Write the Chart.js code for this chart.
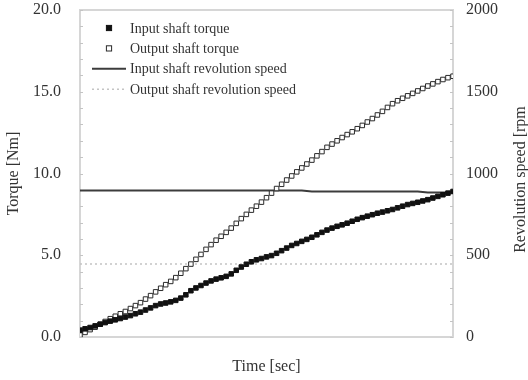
<!DOCTYPE html>
<html lang="en">
  <head>
    <meta charset="UTF-8" />
    <title>Torque and revolution speed</title>
    <script src="https://cdnjs.cloudflare.com/ajax/libs/Chart.js/4.4.1/chart.umd.min.js"></script>
    <style>
      html, body {
        margin: 0;
        padding: 0;
        background: #ffffff;
      }
      .chart-container {
        width: 528px;
        height: 380px;
      }
    </style>
  </head>
  <body>
    <div class="chart-container">
      <canvas id="myChart"></canvas>
    </div>

    <script>
      // torque readings [Nm], one per sample step
      const inputTorque = [
        0.42, 0.50, 0.58, 0.68, 0.78, 0.88, 0.97, 1.05, 1.13, 1.22,
        1.31, 1.42, 1.52, 1.65, 1.78, 1.92, 2.02, 2.08, 2.15, 2.24,
        2.38, 2.58, 2.83, 3.00, 3.15, 3.30, 3.43, 3.54, 3.62, 3.71,
        3.86, 4.08, 4.28, 4.45, 4.60, 4.72, 4.80, 4.90, 4.98, 5.12,
        5.28, 5.44, 5.60, 5.72, 5.85, 5.97, 6.10, 6.25, 6.40, 6.54,
        6.66, 6.77, 6.86, 6.96, 7.08, 7.20, 7.30, 7.39, 7.48, 7.57,
        7.64, 7.72, 7.80, 7.90, 8.00, 8.10, 8.17, 8.24, 8.32, 8.40,
        8.50, 8.60, 8.70, 8.80, 8.90
      ];
      const outputTorque = [
        0.12, 0.28, 0.45, 0.60, 0.78, 0.95, 1.12, 1.27, 1.42, 1.56,
        1.74, 1.92, 2.10, 2.32, 2.53, 2.76, 2.98, 3.20, 3.40, 3.63,
        3.90, 4.18, 4.46, 4.75, 5.05, 5.36, 5.65, 5.92, 6.16, 6.40,
        6.66, 6.95, 7.24, 7.50, 7.76, 8.00, 8.25, 8.52, 8.80, 9.08,
        9.34, 9.60, 9.85, 10.10, 10.34, 10.58, 10.82, 11.08, 11.34, 11.60,
        11.80, 12.00, 12.20, 12.38, 12.55, 12.74, 12.94, 13.15, 13.36, 13.58,
        13.80, 14.04, 14.27, 14.45, 14.60, 14.75, 14.90, 15.05, 15.20, 15.35,
        15.48, 15.62, 15.75, 15.86, 15.95
      ];

      // revolution speed [rpm], sample step where each reading holds
      const inputSpeedTime = [0, 44, 46, 67, 69, 74];
      const inputSpeed = [896, 896, 890, 890, 884, 884];
      const outputSpeedTime = [0, 74];
      const outputSpeed = [447, 447];

      const torqueTicks = [0, 5, 10, 15, 20];
      const speedTicks = [0, 500, 1000, 1500, 2000];

      const serif = "'Liberation Serif', 'DejaVu Serif', serif";
      const textColor = "#333333";

      const toPoints = (xs, ys) => ys.map((y, i) => ({ x: xs[i], y: y }));
      const steps = inputTorque.map((_, i) => i);

      // keep the plot box where the reference has it
      const fitSide = (width) => (s) => {
        s.width = width;
        s.paddingTop = 10;
        s.paddingBottom = 10;
      };

      // frame, small inside ticks, legend and the right axis title
      const framePlugin = {
        id: "frame",
        beforeDatasetsDraw(chart) {
          const { ctx, chartArea: a, scales } = chart;
          ctx.save();
          ctx.strokeStyle = "#d6d6d6";
          ctx.lineWidth = 2;
          ctx.strokeRect(a.left, a.top, a.right - a.left, a.bottom - a.top);
          ctx.lineWidth = 1;
          ctx.strokeStyle = "#c4c4c4";
          scales.y.ticks.forEach((t) => {
            const py = Math.round(scales.y.getPixelForValue(t.value)) + 0.5;
            ctx.beginPath();
            ctx.moveTo(a.left, py);
            ctx.lineTo(a.left + 3, py);
            ctx.stroke();
          });
          scales.y2.ticks.forEach((t) => {
            const py = Math.round(scales.y2.getPixelForValue(t.value)) + 0.5;
            ctx.beginPath();
            ctx.moveTo(a.right - 3, py);
            ctx.lineTo(a.right, py);
            ctx.stroke();
          });
          ctx.restore();
        },
        afterDraw(chart) {
          const { ctx, chartArea: a } = chart;
          ctx.save();
          ctx.font = "14px " + serif;
          ctx.textBaseline = "middle";
          chart.data.datasets.forEach((ds, i) => {
            const y = a.top + 18 + i * 20.4;
            const cx = a.left + 29;
            ctx.setLineDash([]);
            if (ds.showLine === false) {
              const h = 2.6;
              ctx.fillStyle = ds.backgroundColor;
              ctx.fillRect(cx - h, y - h, 2 * h, 2 * h);
              ctx.lineWidth = 1;
              ctx.strokeStyle = ds.borderColor;
              ctx.strokeRect(cx - h, y - h, 2 * h, 2 * h);
            } else {
              ctx.strokeStyle = ds.borderColor;
              ctx.lineWidth = ds.borderWidth;
              ctx.setLineDash(ds.borderDash || []);
              ctx.beginPath();
              ctx.moveTo(cx - 17, y);
              ctx.lineTo(cx + 17, y);
              ctx.stroke();
            }
            ctx.setLineDash([]);
            ctx.fillStyle = textColor;
            ctx.fillText(ds.label, a.left + 50, y + 1);
          });

          ctx.fillStyle = textColor;
          ctx.font = "16px " + serif;
          ctx.textAlign = "center";
          ctx.translate(521, (a.top + a.bottom) / 2 + 6);
          ctx.rotate(-Math.PI / 2);
          ctx.fillText("Revolution speed [rpm", 0, 0);
          ctx.restore();
        },
      };

      const ctx = document.getElementById("myChart").getContext("2d");
      const myChart = new Chart(ctx, {
        type: "line",
        data: {
          datasets: [
            {
              label: "Input shaft torque",
              data: toPoints(steps, inputTorque),
              yAxisID: "y",
              showLine: false,
              pointStyle: "rect",
              pointRadius: 3.2,
              pointBorderWidth: 1,
              backgroundColor: "#111111",
              borderColor: "#111111",
            },
            {
              label: "Output shaft torque",
              data: toPoints(steps, outputTorque),
              yAxisID: "y",
              showLine: false,
              pointStyle: "rect",
              pointRadius: 3.2,
              pointBorderWidth: 1,
              backgroundColor: "#ffffff",
              borderColor: "#2a2a2a",
            },
            {
              label: "Input shaft revolution speed",
              data: toPoints(inputSpeedTime, inputSpeed),
              yAxisID: "y2",
              pointRadius: 0,
              borderColor: "#3c3c3c",
              backgroundColor: "#3c3c3c",
              borderWidth: 2,
              tension: 0,
            },
            {
              label: "Output shaft revolution speed",
              data: toPoints(outputSpeedTime, outputSpeed),
              yAxisID: "y2",
              pointRadius: 0,
              borderColor: "#c4c4c4",
              backgroundColor: "#c4c4c4",
              borderWidth: 1.5,
              borderDash: [2, 3],
            },
          ],
        },
        options: {
          animation: false,
          responsive: true,
          maintainAspectRatio: false,
          layout: { padding: 0 },
          scales: {
            x: {
              type: "linear",
              min: 0,
              max: 74,
              grid: { display: false, drawTicks: false },
              border: { display: false },
              ticks: { display: false },
              title: {
                display: true,
                text: "Time [sec]",
                color: textColor,
                font: { family: serif, size: 16 },
              },
              afterFit: (s) => { s.height = 43; },
            },
            y: {
              position: "left",
              min: 0,
              max: 20,
              grid: { display: false, drawTicks: false },
              border: { display: false },
              ticks: {
                stepSize: 1,
                autoSkip: false,
                padding: 19,
                color: textColor,
                font: { family: serif, size: 16 },
                callback: (v) => (torqueTicks.includes(v) ? v.toFixed(1) : ""),
              },
              title: {
                display: true,
                text: "Torque [Nm]",
                color: textColor,
                font: { family: serif, size: 16 },
              },
              afterFit: fitSide(80),
            },
            y2: {
              position: "right",
              min: 0,
              max: 2000,
              grid: { display: false, drawTicks: false },
              border: { display: false },
              ticks: {
                stepSize: 100,
                autoSkip: false,
                padding: 13,
                color: textColor,
                font: { family: serif, size: 16 },
                callback: (v) => (speedTicks.includes(v) ? String(v) : ""),
              },
              afterFit: fitSide(75),
            },
          },
          plugins: {
            tooltip: { enabled: false },
            legend: { display: false },
          },
        },
        plugins: [framePlugin],
      });
    </script>
  </body>
</html>
